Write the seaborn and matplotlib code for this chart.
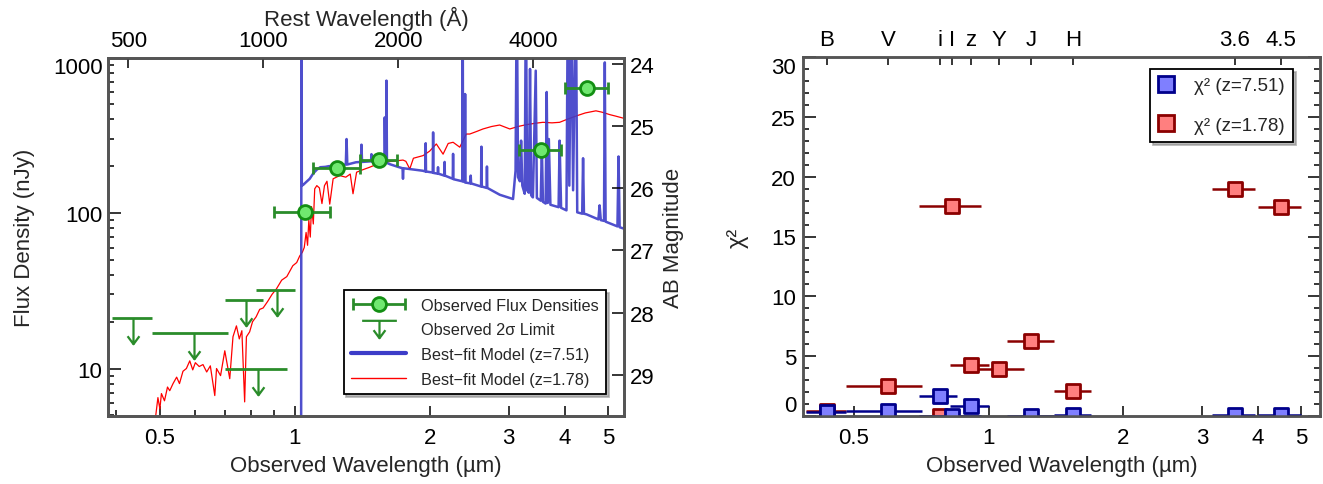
import numpy as np
import pandas as pd
import matplotlib
matplotlib.use("Agg")
import matplotlib.pyplot as plt
from matplotlib.path import Path
from matplotlib.lines import Line2D
from matplotlib.legend_handler import HandlerErrorbar
from matplotlib.ticker import FixedLocator, NullLocator, NullFormatter
import seaborn as sns

sns.set_theme(style="ticks")
plt.rcParams['font.family'] = ['Liberation Sans', 'DejaVu Sans']

####### DATA ######################################

# photometric bands (observed, micron) and filter widths
band_names = ['B', 'V', 'i', 'I', 'z', 'Y', 'J', 'H', '3.6', '4.5']
band_wave = [0.435, 0.596, 0.778, 0.830, 0.912, 1.053, 1.245, 1.545, 3.55, 4.50]
band_lo = [0.39, 0.48, 0.70, 0.70, 0.82, 0.90, 1.10, 1.40, 3.16, 4.00]
band_hi = [0.48, 0.71, 0.85, 0.96, 1.00, 1.20, 1.40, 1.69, 3.93, 5.00]

# detections (nJy)
det_bands = ['Y', 'J', 'H', '3.6', '4.5']
det_flux = [101, 195, 220, 256, 640]
# 2 sigma upper limits (nJy)
lim_bands = ['B', 'V', 'i', 'I', 'z']
lim_flux = [21.2, 16.8, 27.5, 10.0, 31.9]

# best-fit model z=7.51
blue_wave = [0.38, 1.033, 1.035, 1.037, 1.045, 1.06, 1.08, 1.10, 1.12, 1.14, 1.17, 1.19, 1.218,
             1.24, 1.26, 1.30, 1.305, 1.31, 1.37, 1.405, 1.409, 1.413, 1.48, 1.483, 1.486, 1.52,
             1.585, 1.588, 1.593, 1.598, 1.602, 1.606, 1.63, 1.70, 1.74, 1.744, 1.748, 1.85, 1.93,
             1.957, 1.96, 1.963, 2.032, 2.036, 2.04, 2.085, 2.088, 2.091, 2.157, 2.16, 2.163,
             2.252, 2.256, 2.26, 2.365, 2.37, 2.375, 2.395, 2.40, 2.405, 2.465, 2.47, 2.475,
             2.605, 2.61, 2.615, 2.68, 2.685, 2.69, 2.868, 3.07, 3.11, 3.13, 3.15, 3.18, 3.20,
             3.22, 3.26, 3.28, 3.30, 3.33, 3.35, 3.37, 3.40, 3.45, 3.47, 3.54, 3.56, 3.58, 3.63,
             3.65, 3.67, 3.69, 3.72, 3.88, 3.90, 3.93, 4.04, 4.07, 4.10, 4.14, 4.18, 4.24, 4.27,
             4.38, 4.40, 4.42, 4.48, 4.76, 4.79, 4.82, 4.90, 4.92, 4.94, 5.25, 5.28, 5.31, 5.45]
blue_flux = [1, 1, 3000, 150, 152, 158, 166, 180, 190, 197, 198, 200, 201,
             196, 203, 205, 299, 205, 212, 213, 275, 213, 215, 239, 215, 217,
             214, 412, 214, 213, 710, 210, 206, 198, 194, 166, 194, 190, 187,
             185, 281, 185, 182, 330, 181, 179, 197, 179, 174, 213, 174,
             166, 240, 165, 160, 3000, 160, 158, 582, 157, 155, 174, 155,
             148, 267, 148, 145, 199, 145, 131, 123, 187, 3000, 170, 160, 292,
             150, 133, 3000, 140, 135, 844, 130, 126, 823, 125, 120, 271, 118, 115,
             600, 116, 299, 113, 109, 292, 108, 104, 3000, 150, 3000, 140, 3000, 101,
             99, 225, 99, 98, 91, 112, 90, 89, 930, 88, 82, 231, 81, 79]

# best-fit model z=1.78
red_wave = [0.485, 0.495, 0.500, 0.504, 0.512, 0.520, 0.526, 0.535, 0.545, 0.553, 0.563, 0.573,
            0.583, 0.592, 0.600, 0.612, 0.624, 0.636, 0.648, 0.663, 0.669, 0.683, 0.698, 0.716,
            0.728, 0.741, 0.752, 0.762, 0.773, 0.780, 0.793, 0.805, 0.820, 0.835, 0.850, 0.870,
            0.890, 0.910, 0.935, 0.960, 0.990, 1.010, 1.026, 1.040, 1.050, 1.060, 1.068, 1.075,
            1.083, 1.090, 1.100, 1.108, 1.120, 1.135, 1.150, 1.165, 1.180, 1.197, 1.218, 1.26,
            1.30, 1.33, 1.349, 1.374, 1.42, 1.47, 1.52, 1.575, 1.65, 1.744, 1.77, 1.806, 1.84,
            1.934, 2.0, 2.07, 2.143, 2.20, 2.256, 2.335, 2.414, 2.458, 2.55, 2.63, 2.75, 2.866,
            3.02, 3.15, 3.29, 3.45, 3.58, 3.75, 3.9, 4.05, 4.26, 4.45, 4.70, 4.85, 5.05, 5.2, 5.45]
red_flux = [4.0, 6.5, 5.5, 6.9, 6.2, 7.6, 7.2, 8.0, 8.8, 8.0, 9.6, 10.0,
            11.2, 9.8, 10.9, 10.3, 10.6, 9.5, 10.4, 6.7, 10.0, 9.0, 13.0, 8.6,
            16.0, 18.8, 15.5, 17.5, 6.1, 16.0, 17.2, 20.0, 21.5, 24.0, 24.5, 27.0,
            30.0, 32.5, 37.0, 39.0, 45.8, 48.0, 53.0, 56.0, 60.0, 75.0, 62.0, 90.0,
            70.0, 110.0, 85.0, 143.0, 150.0, 145.0, 115.0, 150.0, 160.0, 114.0, 166.0, 174.0,
            170.0, 178.0, 133.0, 183.0, 190.0, 197.0, 205.0, 212.0, 215.0, 219.0, 215.0, 192.0, 225.0,
            234.0, 250.0, 278.0, 239.0, 280.0, 285.0, 265.0, 322.0, 322.0, 335.0, 347.0, 360.0, 368.0,
            347.0, 360.0, 370.0, 378.0, 383.0, 380.0, 383.0, 400.0, 422.0, 440.0, 454.0, 445.0, 429.0, 420.0, 405.0]

# chi^2 per band
chi2_z751 = [0.3, 0.4, 1.7, 0.0, 0.85, np.nan, 0.0, 0.1, 0.1, 0.1]
chi2_z178 = [0.45, 2.5, 0.0, 17.55, 4.25, 3.95, 6.25, 2.1, 19.0, 17.45]

z_hi = 7.51

####### END DATA ######################################

W, H = 1323, 485
fig = plt.figure(figsize=(W / 100, H / 100), dpi=100)

def fax(x0, x1, y0, y1):
    return fig.add_axes([x0 / W, 1 - y1 / H, (x1 - x0) / W, (y1 - y0) / H])

ax1 = fax(108, 624, 58.5, 417)
ax2 = fax(803, 1320, 58, 417)

SPINE = '#555555'
GREEN = '#2a8c2a'
BLUE = '#3c3cc8'
FS = 16

bands = pd.DataFrame({'name': band_names, 'wave': band_wave, 'lo': band_lo, 'hi': band_hi,
                      'chi_hi': chi2_z751, 'chi_lo': chi2_z178}).set_index('name')

# ---------------- left panel ----------------
ax1.set_xscale('log')
ax1.set_yscale('log')
xl1 = (0.383, 5.43)
yl1 = (4.95, 1000)

sns.lineplot(x=red_wave, y=red_flux, ax=ax1, color='red', lw=0.9, sort=False,
             estimator=None, legend=False, zorder=2)
sns.lineplot(x=blue_wave, y=blue_flux, ax=ax1, color=BLUE, lw=1.8, sort=False,
             estimator=None, legend=False, zorder=3, alpha=0.9)

d = bands.loc[det_bands]
det = ax1.errorbar(d.wave, det_flux, xerr=[d.wave - d.lo, d.hi - d.wave], fmt='o',
                   color=GREEN, ms=10, mfc='#70e870', mec='#138f13', mew=2,
                   elinewidth=2, capsize=4, capthick=1.6, zorder=6)

arrow = Path([(0, 0), (0, -1), (-0.23, -0.69), (0, -1), (0.23, -0.69)],
             [Path.MOVETO, Path.LINETO, Path.MOVETO, Path.LINETO, Path.LINETO])
tee = Path([(-1, 0.5), (1, 0.5), (0, 0.5), (0, -0.5), (-0.34, -0.04), (0, -0.5), (0.34, -0.04)],
           [Path.MOVETO, Path.LINETO, Path.MOVETO, Path.LINETO, Path.MOVETO, Path.LINETO, Path.LINETO])

l = bands.loc[lim_bands]
ax1.errorbar(l.wave, lim_flux, xerr=[l.wave - l.lo, l.hi - l.wave], fmt='none',
             ecolor=GREEN, elinewidth=2, capsize=0, zorder=5)
ax1.plot(l.wave, lim_flux, ls='none', marker=arrow, ms=37, mfc='none', mec=GREEN,
         mew=1.6, zorder=5)

ax1.set_xlim(*xl1)
ax1.set_ylim(*yl1)
ax1.xaxis.set_major_locator(FixedLocator([0.5, 1, 2, 3, 4, 5]))
ax1.set_xticklabels(['0.5', '1', '2', '3', '4', '5'])
ax1.xaxis.set_minor_locator(FixedLocator([0.4, 0.6, 0.7, 0.8, 0.9]))
ax1.xaxis.set_minor_formatter(NullFormatter())
ax1.set_yticks([10, 100, 1000], ['10', '100', '1000'])
ax1.yaxis.set_minor_locator(FixedLocator([k * 10.0 ** e for e in (0, 1, 2) for k in range(2, 10)]))
ax1.yaxis.set_minor_formatter(NullFormatter())
ax1.set_xlabel('Observed Wavelength (µm)', fontsize=FS, labelpad=5)
ax1.set_ylabel('Flux Density (nJy)', fontsize=FS, labelpad=13)

# AB magnitude axis
def to_mag(f):
    return 31.4 - 2.5 * np.log10(f)

ax1r = ax1.twinx()
ax1r.set_ylim(to_mag(yl1[0]), to_mag(yl1[1]))
ax1r.set_yticks([24, 25, 26, 27, 28, 29])
ax1r.yaxis.set_minor_locator(NullLocator())
ax1r.set_ylabel('AB Magnitude', fontsize=FS, labelpad=6)

# rest wavelength axis
ax1t = ax1.twiny()
ax1t.set_xscale('log')
ax1t.set_xlim(xl1[0] * 1e4 / (1 + z_hi), xl1[1] * 1e4 / (1 + z_hi))
ax1t.set_xticks([500, 1000, 2000, 4000], ['500', '1000', '2000', '4000'])
ax1t.xaxis.set_minor_locator(NullLocator())
ax1t.set_xlabel('Rest Wavelength (Å)', fontsize=FS, labelpad=3)

leg_h = [det, Line2D([], [], ls='none', marker=tee, ms=25, mfc='none', mec=GREEN, mew=1.6),
         Line2D([], [], color=BLUE, lw=3), Line2D([], [], color='red', lw=1)]
leg_l = ['Observed Flux Densities', 'Observed 2σ Limit',
         'Best−fit Model (z=7.51)', 'Best−fit Model (z=1.78)']
lg1 = ax1r.legend(leg_h, leg_l, loc='lower right', bbox_to_anchor=(0.965, 0.061),
                  borderaxespad=0, fontsize=11.7, handlelength=3.4, handletextpad=0.9,
                  labelspacing=0.6, borderpad=0.45, numpoints=1, fancybox=False,
                  edgecolor='black', framealpha=1, shadow={'color': '0.55', 'alpha': 0.6},
                  handler_map={det: HandlerErrorbar(xerr_size=1.6)})
lg1.get_frame().set_linewidth(1.3)

# ---------------- right panel ----------------
ax2.set_xscale('log')
xl2 = (0.385, 5.5)
RED_E, RED_F = '#8b0000', '#ff7f7f'
NAVY_E, NAVY_F = '#00008b', '#7f7fff'

ax2.errorbar(bands.wave, bands.chi_lo, xerr=[bands.wave - bands.lo, bands.hi - bands.wave],
             fmt='none', ecolor=RED_E, elinewidth=1.8, capsize=0, zorder=2)
sns.scatterplot(data=bands, x='wave', y='chi_lo', ax=ax2, marker='s', s=105, color=RED_F,
                edgecolor=RED_E, linewidth=2, zorder=3, legend=False)
ax2.errorbar(bands.wave, bands.chi_hi, xerr=[bands.wave - bands.lo, bands.hi - bands.wave],
             fmt='none', ecolor=NAVY_E, elinewidth=1.8, capsize=0, zorder=4)
sns.scatterplot(data=bands, x='wave', y='chi_hi', ax=ax2, marker='s', s=105, color=NAVY_F,
                edgecolor=NAVY_E, linewidth=2, zorder=5, legend=False)

ax2.set_xlim(*xl2)
ax2.set_ylim(0, 30)
ax2.xaxis.set_major_locator(FixedLocator([0.5, 1, 2, 3, 4, 5]))
ax2.set_xticklabels(['0.5', '1', '2', '3', '4', '5'])
ax2.xaxis.set_minor_locator(NullLocator())
ax2.set_yticks([0, 5, 10, 15, 20, 25, 30])
ax2.yaxis.set_minor_locator(FixedLocator(np.arange(0, 31, 1)))
ax2.set_xlabel('Observed Wavelength (µm)', fontsize=FS, labelpad=5)
ax2.set_ylabel('χ²', fontsize=FS + 1, labelpad=16)

ax2t = ax2.twiny()
ax2t.set_xscale('log')
ax2t.set_xlim(*xl2)
ax2t.set_xticks(band_wave, band_names)
ax2t.xaxis.set_minor_locator(NullLocator())

leg2 = [Line2D([], [], ls='none', marker='s', ms=11, mfc=NAVY_F, mec=NAVY_E, mew=2),
        Line2D([], [], ls='none', marker='s', ms=11, mfc=RED_F, mec=RED_E, mew=2)]
lg2 = ax2t.legend(leg2, ['χ² (z=7.51)', 'χ² (z=1.78)'], loc='upper right',
                  bbox_to_anchor=(0.948, 0.967), borderaxespad=0, fontsize=13.5,
                  handlelength=0.8, handletextpad=1.1, labelspacing=1.2, borderpad=0.45,
                  fancybox=False, edgecolor='black', framealpha=1,
                  shadow={'color': '0.55', 'alpha': 0.6})
lg2.get_frame().set_linewidth(1.3)

# ---------------- common styling ----------------
for a in (ax1, ax1r, ax1t, ax2, ax2t):
    for s in a.spines.values():
        s.set_color(SPINE)
        s.set_linewidth(1.8)
    a.tick_params(which='both', direction='in', color='black', width=1.1,
                  labelsize=FS, labelcolor='black')
    a.tick_params(which='major', length=7)
    a.tick_params(which='minor', length=4)
    a.grid(False)

ax1.tick_params(axis='x', pad=8)
ax1.tick_params(axis='y', pad=4, which='major', length=9)
ax1r.tick_params(axis='y', pad=4, length=9)
ax1t.tick_params(axis='x', pad=5)
ax2.tick_params(axis='x', pad=8)
ax2.tick_params(axis='y', which='both', left=True, right=True, pad=5)
ax2.tick_params(axis='y', which='major', length=9)
ax2t.tick_params(axis='x', pad=5, length=6)

# nudge the labels sitting on the frame edges
ax1.get_yticklabels()[-1].set_va('top')
ax2.get_yticklabels()[0].set_va('bottom')
ax2.get_yticklabels()[-1].set_va('top')

fig.savefig('out.png', dpi=100)
